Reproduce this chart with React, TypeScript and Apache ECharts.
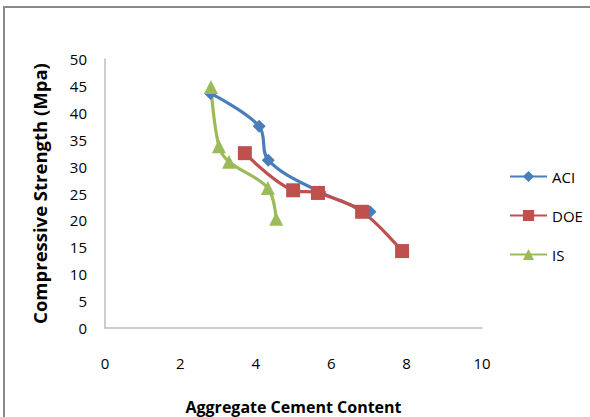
import React, { useEffect, useRef } from "react";
import * as echarts from "echarts";

// Aggregate/cement content vs. compressive strength for three mix-design methods
const aciX = [2.8, 4.09, 4.33, 5.7, 7.03];
const aciY = [43.6, 37.5, 31.2, 25.3, 21.6];
const doeX = [3.71, 4.99, 5.65, 6.82, 7.88];
const doeY = [32.5, 25.6, 25.1, 21.6, 14.3];
const isX = [2.81, 3.02, 3.29, 4.32, 4.54];
const isY = [44.8, 33.8, 30.9, 26.0, 20.3];

const xTicks = { min: 0, max: 10, interval: 2 };
const yTicks = { min: 0, max: 50, interval: 5 };

const FONT = "'Open Sans', sans-serif";

const pairs = (xs: number[], ys: number[]) => xs.map((x, i) => [x, ys[i]]);

export default function App() {
  const ref = useRef<HTMLDivElement>(null);

  useEffect(() => {
    if (!ref.current) return;
    const chart = echarts.init(ref.current, undefined, { renderer: "svg" });
    const mk = (name: string, data: number[][], color: string, symbol: string, size: number) => ({
      name,
      type: "line",
      data,
      smooth: 0.35,
      symbol,
      symbolSize: size,
      lineStyle: { color, width: 3.2 },
      itemStyle: { color },
    });
    chart.setOption({
      animation: false,
      backgroundColor: "#ffffff",
      textStyle: { fontFamily: FONT },
      graphic: [
        {
          type: "rect",
          shape: { x: 4, y: 7, width: 600, height: 420 },
          style: { fill: "none", stroke: "#8a8a8a", lineWidth: 2 },
          silent: true,
        },
      ],
      grid: { left: 105, right: 108, top: 59, bottom: 89, outerBoundsMode: "none", containLabel: false },
      legend: {
        orient: "vertical",
        left: 509,
        top: 169,
        padding: 0,
        itemGap: 24,
        itemWidth: 37,
        itemHeight: 14,
        textStyle: { fontFamily: FONT, fontSize: 15, color: "#000" },
        data: ["ACI", "DOE", "IS"],
      },
      xAxis: {
        type: "value",
        ...xTicks,
        name: "Aggregate Cement Content",
        nameLocation: "middle",
        nameGap: 71,
        nameTextStyle: { fontFamily: FONT, fontSize: 16, fontWeight: "bold", color: "#000" },
        axisLine: { show: true, lineStyle: { color: "#bdbdbd", width: 1.5 } },
        axisTick: { show: false },
        splitLine: { show: false },
        axisLabel: { margin: 27, fontSize: 15, color: "#000", fontFamily: FONT },
      },
      yAxis: {
        type: "value",
        ...yTicks,
        name: "Compressive Strength (Mpa)",
        nameLocation: "middle",
        nameGap: 56,
        nameTextStyle: { fontFamily: FONT, fontSize: 18.5, fontWeight: "bold", color: "#000" },
        axisLine: { show: true, lineStyle: { color: "#bdbdbd", width: 1.5 } },
        axisTick: { show: false },
        splitLine: { show: false },
        axisLabel: { margin: 18, fontSize: 15, color: "#000", fontFamily: FONT },
      },
      series: [
        mk("ACI", pairs(aciX, aciY), "#4A7EBB", "diamond", 13),
        mk("DOE", pairs(doeX, doeY), "#C0504D", "rect", 14),
        mk("IS", pairs(isX, isY), "#9BBB59", "triangle", 14),
      ],
    });
    return () => chart.dispose();
  }, []);

  return (
    <div
      ref={ref}
      style={{ position: "absolute", left: 0, top: 0, width: 590, height: 417 }}
    />
  );
}
